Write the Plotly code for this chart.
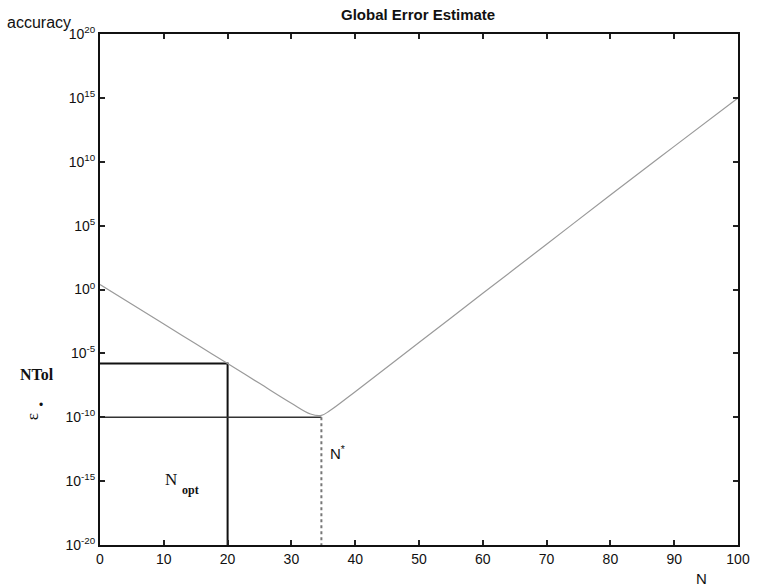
import plotly.graph_objects as go

# Global error estimate as a function of N (read off a log scale)
n_vals = [0, 5, 10, 15, 20, 25, 30, 33, 34.7, 36, 40, 50, 60, 70, 80, 90, 100]
err_vals = [2.5, 7.1e-2, 2.0e-3, 5.6e-5, 1.6e-6, 4.5e-8, 1.26e-9, 1.8e-10,
            1.4e-10, 3.2e-10, 1.0e-8, 7.0e-5, 0.5, 3.5e3, 2.5e7, 1.6e11, 1.0e15]

# Reference levels
n_opt = 20
ntol = 1.6e-6
n_star = 34.7
eps_star = 1.0e-10
y_floor = 1e-20

x_ticks = [0, 10, 20, 30, 40, 50, 60, 70, 80, 90, 100]
y_exps = [-20, -15, -10, -5, 0, 5, 10, 15, 20]

L, R, T, B = 100, 13, 34, 41
W, H = 762, 586
PW, PH = W - L - R, H - T - B


def px(x):
    return (x - L) / PW


def py(y):
    return (H - B - y) / PH


fig = go.Figure()

# NTol and N_opt box lines
fig.add_trace(go.Scatter(x=[0, n_opt, n_opt], y=[ntol, ntol, y_floor], mode="lines",
                         line=dict(color="#111111", width=2), hoverinfo="skip"))
# eps* horizontal and N* vertical
fig.add_trace(go.Scatter(x=[0, n_star], y=[eps_star, eps_star], mode="lines",
                         line=dict(color="#333333", width=1.6), hoverinfo="skip"))
fig.add_trace(go.Scatter(x=[n_star, n_star], y=[eps_star, y_floor], mode="lines",
                         line=dict(color="#777777", width=2, dash="dot"), hoverinfo="skip"))
# error curve
fig.add_trace(go.Scatter(x=n_vals, y=err_vals, mode="lines", line_shape="spline",
                         line=dict(color="#9a9a9a", width=1.2), hoverinfo="skip"))

tick_font = dict(family="Liberation Sans, Arial", size=14, color="#111111")
fig.update_layout(
    width=W, height=H,
    margin=dict(l=L, r=R, t=T, b=B),
    paper_bgcolor="white", plot_bgcolor="white",
    showlegend=False,
    xaxis=dict(range=[0, 100], tickvals=x_ticks, ticks="inside", ticklen=5,
               tickwidth=1.5, tickcolor="#222", showgrid=False, zeroline=False,
               showline=True, linecolor="#111", linewidth=2, mirror="ticks",
               tickfont=tick_font),
    yaxis=dict(type="log", range=[-20, 20],
               tickvals=[10.0 ** e for e in y_exps],
               ticktext=[f"10<sup>{e}</sup>" for e in y_exps],
               ticks="inside", ticklen=5, tickwidth=1.5, tickcolor="#222",
               showgrid=False, zeroline=False, showline=True, linecolor="#111",
               linewidth=2, mirror="ticks", tickfont=tick_font),
)

ann = [
    dict(text="<b>Global Error Estimate</b>", x=px(423), y=py(14), size=15,
         family="Liberation Sans, Arial"),
    dict(text="accuracy", x=px(38), y=py(22), size=16, family="Liberation Sans, Arial"),
    dict(text="<b>NTol</b>", x=px(36), y=py(374), size=16, family="Liberation Serif, Times New Roman"),
    dict(text="ε", x=px(31), y=py(417), size=17, family="Liberation Serif, Times New Roman", angle=-90),
    dict(text="•", x=px(40), y=py(405), size=12, family="Liberation Sans, Arial"),
    dict(text="N", x=px(172), y=py(479), size=17, family="Liberation Serif, Times New Roman"),
    dict(text="<b>opt</b>", x=px(192), y=py(490), size=12, family="Liberation Serif, Times New Roman"),
    dict(text="N<sup>*</sup>", x=px(342), y=py(452), size=15, family="Liberation Sans, Arial"),
    dict(text="N", x=px(712), y=py(579), size=15, family="Liberation Sans, Arial"),
]
for a in ann:
    fig.add_annotation(text=a["text"], x=a["x"], y=a["y"], xref="paper", yref="paper",
                       showarrow=False, xanchor="center", yanchor="middle",
                       textangle=a.get("angle", 0),
                       font=dict(family=a["family"], size=a["size"], color="#111"))

fig.write_html("out.html")
